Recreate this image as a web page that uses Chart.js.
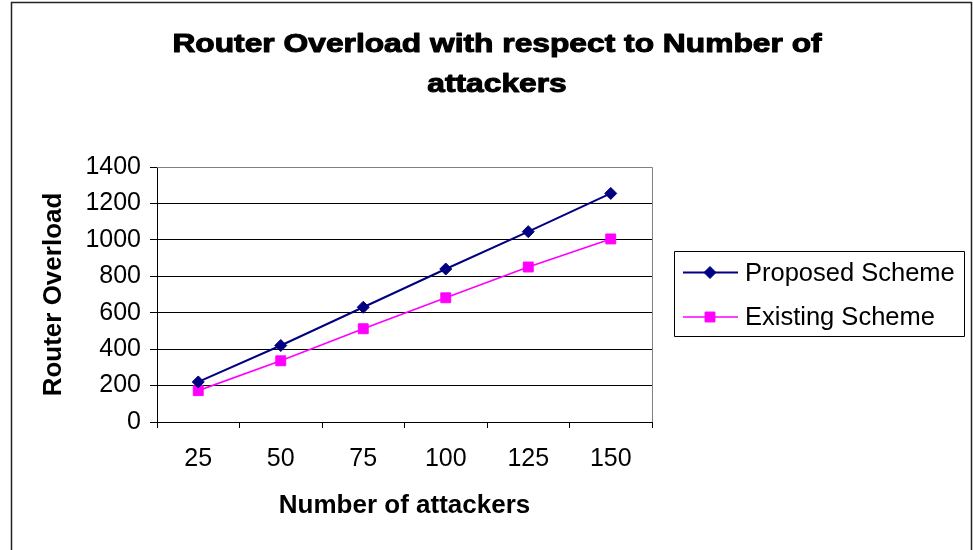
<!DOCTYPE html>
<html>
<head>
<meta charset="utf-8">
<script src="https://cdn.jsdelivr.net/npm/chart.js@4/dist/chart.umd.min.js"></script>
<style>
  html, body { margin: 0; padding: 0; background: #ffffff; }
  #wrap { width: 973px; height: 550px; position: relative; }
</style>
</head>
<body>
<div id="wrap"><canvas id="chart" width="973" height="550"></canvas></div>
<script>
// Number of attackers on the x axis
const attackers = ['25', '50', '75', '100', '125', '150'];
// Router overload per scheme
const proposedScheme = [220, 420, 630, 840, 1045, 1255];
const existingScheme = [172, 336, 512, 682, 851, 1005];
// Value axis range and step
const yMin = 0;
const yMax = 1400;
const yStep = 200;

const titleLines = ['Router Overload with respect to Number of', 'attackers'];
const seriesNames = ['Proposed Scheme', 'Existing Scheme'];

const FONT = "'Liberation Sans', Arial, sans-serif";

// Outer frame, plot border, chart title and boxed legend
const decorPlugin = {
  id: 'decor',
  beforeDatasetsDraw(chart) {
    const { ctx, chartArea: a } = chart;
    ctx.save();
    ctx.strokeStyle = '#808080';
    ctx.lineWidth = 1;
    ctx.beginPath();
    const t = Math.round(a.top) + 0.5, r = Math.round(a.right) + 0.5;
    ctx.moveTo(a.left, t); ctx.lineTo(r, t); ctx.lineTo(r, a.bottom);
    ctx.stroke();
    ctx.restore();
  },
  afterDraw(chart) {
    const { ctx } = chart;
    ctx.save();
    // frame
    ctx.strokeStyle = '#222222';
    ctx.lineWidth = 1.5;
    ctx.strokeRect(11.5, 2.5, 960, 600);

    // title in a wide, heavy bold face
    ctx.fillStyle = '#000000';
    ctx.strokeStyle = '#000000';
    ctx.lineWidth = 1;
    ctx.lineJoin = 'round';
    ctx.font = 'bold 25px ' + FONT;
    ctx.textAlign = 'center';
    ctx.textBaseline = 'middle';
    const cx = 497;
    const sx = 1.27;
    titleLines.forEach((line, i) => {
      ctx.save();
      ctx.translate(cx, 45 + i * 40);
      ctx.scale(sx, 1);
      ctx.fillText(line, 0, 0);
      ctx.strokeText(line, 0, 0);
      ctx.restore();
    });

    // legend
    const lx = 674.5, ly = 251.5, lw = 290, lh = 85;
    ctx.strokeStyle = '#000000';
    ctx.lineWidth = 1;
    ctx.strokeRect(lx, ly, lw, lh);
    ctx.font = '25.5px ' + FONT;
    ctx.textAlign = 'left';
    chart.data.datasets.forEach((ds, i) => {
      const y = ly + 21 + i * 44.5;
      ctx.strokeStyle = ds.borderColor;
      ctx.lineWidth = ds.borderWidth;
      ctx.beginPath();
      ctx.moveTo(683, y); ctx.lineTo(738, y);
      ctx.stroke();
      ctx.fillStyle = ds.pointBackgroundColor;
      ctx.strokeStyle = ds.pointBorderColor;
      ctx.lineWidth = ds.pointBorderWidth;
      Chart.helpers.drawPoint(ctx, { pointStyle: ds.pointStyle, radius: ds.pointRadius, rotation: 0, borderWidth: ds.pointBorderWidth }, 710, y);
      ctx.fillStyle = '#000000';
      ctx.fillText(ds.label, 745, y + 1);
    });
    ctx.restore();
  }
};

new Chart(document.getElementById('chart'), {
  type: 'line',
  data: {
    labels: attackers,
    datasets: [
      {
        label: seriesNames[0],
        data: proposedScheme,
        borderColor: '#000080',
        backgroundColor: '#000080',
        borderWidth: 2,
        pointStyle: 'rectRot',
        pointRadius: 6,
        pointBackgroundColor: '#000080',
        pointBorderColor: '#000080',
        pointBorderWidth: 1,
        tension: 0
      },
      {
        label: seriesNames[1],
        data: existingScheme,
        borderColor: '#FF00FF',
        backgroundColor: '#FF00FF',
        borderWidth: 1.7,
        pointStyle: 'rect',
        pointRadius: 7,
        pointBackgroundColor: '#FF00FF',
        pointBorderColor: '#FF00FF',
        pointBorderWidth: 1,
        tension: 0
      }
    ]
  },
  options: {
    responsive: false,
    animation: false,
    devicePixelRatio: 1,
    layout: { padding: { top: 167, left: 11, right: 321, bottom: 0 } },
    plugins: {
      legend: { display: false },
      title: { display: false },
      tooltip: { enabled: false }
    },
    scales: {
      x: {
        type: 'category',
        offset: true,
        afterFit(scale) { scale.height = 128; },
        grid: {
          offset: true,
          drawOnChartArea: false,
          drawTicks: true,
          tickLength: 6,
          color: '#000000',
          lineWidth: 1
        },
        border: { display: true, color: '#000000', width: 1 },
        ticks: {
          color: '#000000',
          font: { family: FONT, size: 25 },
          padding: 16,
          maxRotation: 0
        },
        title: {
          display: true,
          text: 'Number of attackers',
          color: '#000000',
          font: { family: FONT, size: 26, weight: 'bold' },
          padding: { top: 0, bottom: 29 }
        }
      },
      y: {
        min: yMin,
        max: yMax,
        afterFit(scale) { scale.width = 146; },
        grid: {
          color: '#000000',
          lineWidth: 1,
          drawTicks: true,
          tickLength: 7
        },
        border: { display: true, color: '#000000', width: 1 },
        ticks: {
          stepSize: yStep,
          color: '#000000',
          font: { family: FONT, size: 25 },
          padding: 9,
          callback: (v) => String(v)
        },
        title: {
          display: true,
          text: 'Router Overload',
          color: '#000000',
          font: { family: FONT, size: 26, weight: 'bold' },
          padding: { top: 27, bottom: 0 }
        }
      }
    }
  },
  plugins: [decorPlugin]
});
</script>
</body>
</html>
